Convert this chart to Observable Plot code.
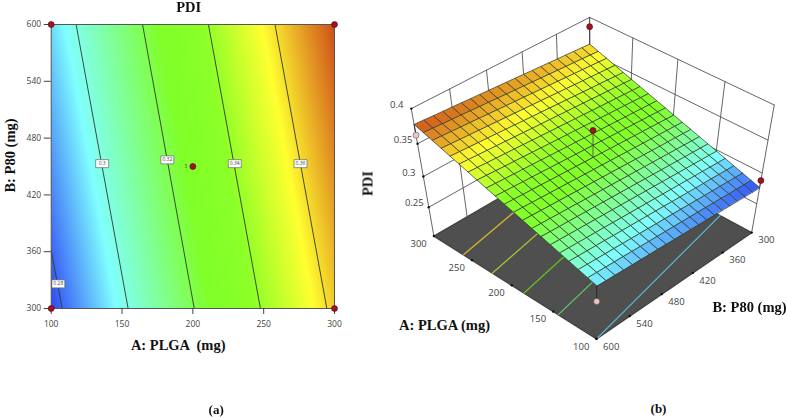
<!DOCTYPE html>
<html>
<head>
<meta charset="utf-8">
<script src="https://cdn.jsdelivr.net/npm/d3@7"></script>
<script src="https://cdn.jsdelivr.net/npm/@observablehq/plot@0.6"></script>
<style>
html,body{margin:0;padding:0;background:#fff;}
#wrap{display:flex;width:787px;height:417px;overflow:hidden;}
svg{display:block;filter:blur(0.35px);}
</style>
</head>
<body>
<div id="wrap"></div>
<script>
// ---- Data ----
const plgaLevels = [100,110,120,130,140,150,160,170,180,190,200,210,220,230,240,250,260,270,280,290,300];
const p80Levels = [300,315,330,345,360,375,390,405,420,435,450,465,480,495,510,525,540,555,570,585,600];
// one row per P80 level, one column per PLGA level
const pdiRows = [
[.2768,.2811,.2853,.2896,.2939,.2982,.3024,.3067,.3110,.3152,.3195,.3238,.3280,.3323,.3366,.3409,.3451,.3494,.3537,.3579,.3622],
[.2776,.2819,.2861,.2904,.2947,.2990,.3032,.3075,.3118,.3160,.3203,.3246,.3288,.3331,.3374,.3417,.3459,.3502,.3545,.3587,.3630],
[.2784,.2827,.2869,.2912,.2955,.2998,.3040,.3083,.3126,.3168,.3211,.3254,.3296,.3339,.3382,.3425,.3467,.3510,.3553,.3595,.3638],
[.2792,.2835,.2877,.2920,.2963,.3006,.3048,.3091,.3134,.3176,.3219,.3262,.3304,.3347,.3390,.3433,.3475,.3518,.3561,.3603,.3646],
[.2799,.2842,.2884,.2927,.2970,.3013,.3055,.3098,.3141,.3183,.3226,.3269,.3311,.3354,.3397,.3440,.3482,.3525,.3568,.3610,.3653],
[.2807,.2850,.2892,.2935,.2978,.3021,.3063,.3106,.3149,.3191,.3234,.3277,.3319,.3362,.3405,.3448,.3490,.3533,.3576,.3618,.3661],
[.2815,.2858,.2900,.2943,.2986,.3029,.3071,.3114,.3157,.3199,.3242,.3285,.3327,.3370,.3413,.3456,.3498,.3541,.3584,.3626,.3669],
[.2823,.2866,.2908,.2951,.2994,.3037,.3079,.3122,.3165,.3207,.3250,.3293,.3335,.3378,.3421,.3464,.3506,.3549,.3592,.3634,.3677],
[.2831,.2874,.2916,.2959,.3002,.3045,.3087,.3130,.3173,.3215,.3258,.3301,.3343,.3386,.3429,.3472,.3514,.3557,.3600,.3642,.3685],
[.2839,.2882,.2924,.2967,.3010,.3053,.3095,.3138,.3181,.3223,.3266,.3309,.3351,.3394,.3437,.3480,.3522,.3565,.3608,.3650,.3693],
[.2847,.2890,.2932,.2975,.3018,.3061,.3103,.3146,.3189,.3231,.3274,.3317,.3359,.3402,.3445,.3488,.3530,.3573,.3616,.3658,.3701],
[.2854,.2897,.2939,.2982,.3025,.3068,.3110,.3153,.3196,.3238,.3281,.3324,.3366,.3409,.3452,.3495,.3537,.3580,.3623,.3665,.3708],
[.2862,.2905,.2947,.2990,.3033,.3076,.3118,.3161,.3204,.3246,.3289,.3332,.3374,.3417,.3460,.3503,.3545,.3588,.3631,.3673,.3716],
[.2870,.2913,.2955,.2998,.3041,.3084,.3126,.3169,.3212,.3254,.3297,.3340,.3382,.3425,.3468,.3511,.3553,.3596,.3639,.3681,.3724],
[.2878,.2921,.2963,.3006,.3049,.3092,.3134,.3177,.3220,.3262,.3305,.3348,.3390,.3433,.3476,.3519,.3561,.3604,.3647,.3689,.3732],
[.2886,.2929,.2971,.3014,.3057,.3100,.3142,.3185,.3228,.3270,.3313,.3356,.3398,.3441,.3484,.3527,.3569,.3612,.3655,.3697,.3740],
[.2894,.2937,.2979,.3022,.3065,.3108,.3150,.3193,.3236,.3278,.3321,.3364,.3406,.3449,.3492,.3535,.3577,.3620,.3663,.3705,.3748],
[.2901,.2944,.2986,.3029,.3072,.3115,.3157,.3200,.3243,.3285,.3328,.3371,.3413,.3456,.3499,.3542,.3584,.3627,.3670,.3712,.3755],
[.2909,.2952,.2994,.3037,.3080,.3123,.3165,.3208,.3251,.3293,.3336,.3379,.3421,.3464,.3507,.3550,.3592,.3635,.3678,.3720,.3763],
[.2917,.2960,.3002,.3045,.3088,.3131,.3173,.3216,.3259,.3301,.3344,.3387,.3429,.3472,.3515,.3558,.3600,.3643,.3686,.3728,.3771],
[.2925,.2968,.3010,.3053,.3096,.3139,.3181,.3224,.3267,.3309,.3352,.3395,.3437,.3480,.3523,.3566,.3608,.3651,.3694,.3736,.3779]
];
const plgaTicks = [100,150,200,250,300];
const p80Ticks = [300,360,420,480,540,600];
const pdiTicks = [0.25,0.3,0.35,0.4];

// contours of panel (a): PLGA and P80 at both ends of each line
const contourLevels = ["0.28","0.3","0.32","0.34","0.36"];
const contourStartA = [107.8,154.3,201,247.7,294.6];
const contourStartB = [300,300,300,300,300];
const contourEndA = [100,117.6,164.5,211,258];
const contourEndB = [361,600,600,600,600];
const contourLabelA = [105,136,182,229.6,276];
const contourLabelB = [326,453,457,453,453];

// contours on the floor of panel (b): PLGA at P80=600 and at P80=300
const floorStartA = [261,224,185,144,100];
const floorEndA = [297.7,260.7,221.7,180.7,136.7];
const floorColors = ["#d8bb2e","#a5cc2c","#62c41f","#62cc6a","#58bcdc"];

// design points: PLGA, P80, measured PDI
const pointA = [300,200,100,300,100];
const pointB = [300,450,300,600,600];
const pointPDI = [0.387,0.3667,0.288,0.3625,0.2664];
const pointSurface = [0.3622,0.3273,0.2768,0.3779,0.2925];
const pointBelow = [false,false,false,true,true];

// colour ramp
const rampStops = [0.2768,0.2965,0.325,0.338,0.356,0.3779];
const rampColors = ["#2f48f5","#80ffff","#80ff28","#8cff28","#ffff30","#cf4d1a"];

// ---- shared options ----
const colorScale = {type:"linear", domain:rampStops, range:rampColors, interpolate:"rgb"};
const serif = {fontFamily:"Liberation Serif", fontWeight:"bold", fill:"#111", fontSize:14.5};
const sans = {fontFamily:"Open Sans", fill:"#444"};

// ---- panel (a) ----
const grid = pdiRows.flatMap((row,j)=>row.map((pdi,i)=>({A:plgaLevels[i],B:p80Levels[j],pdi})));
const contourLines = contourLevels.flatMap((level,i)=>[
  {level,A:contourStartA[i],B:contourStartB[i]},
  {level,A:contourEndA[i],B:contourEndB[i]}
]);
const contourLabels = contourLevels.map((level,i)=>({level,A:contourLabelA[i],B:contourLabelB[i]}));
const points = pointA.map((A,i)=>({A,B:pointB[i],pdi:pointPDI[i],surface:pointSurface[i],below:pointBelow[i]}));
const labelBox = {draw(ctx){ctx.moveTo(-6.5,-4);ctx.lineTo(6.5,-4);ctx.lineTo(6.5,4);ctx.lineTo(-6.5,4);ctx.closePath();}};

const left = Plot.plot({
  width:360, height:417,
  marginLeft:50.7, marginRight:26, marginTop:24, marginBottom:109,
  style:{background:"white", overflow:"visible"},
  x:{domain:[100,300], label:null},
  y:{domain:[300,600], label:null},
  color:colorScale,
  marks:[
    Plot.raster(grid,{x:"A",y:"B",fill:"pdi",interpolate:"barycentric"}),
    Plot.line(contourLines,{x:"A",y:"B",z:"level",stroke:"#2e3a2e",strokeWidth:0.9}),
    Plot.dot(contourLabels,{x:"A",y:"B",symbol:labelBox,r:4,fill:"white",stroke:"#666",strokeWidth:0.7}),
    Plot.text(contourLabels,{x:"A",y:"B",text:"level",fontSize:5,...sans}),
    Plot.frame({stroke:"#555",strokeWidth:1}),
    Plot.axisX({ticks:plgaTicks,tickSize:6,tickPadding:6,label:null,fontSize:8.5,fontFamily:"Open Sans",color:"#444"}),
    Plot.axisY({ticks:p80Ticks,tickSize:7,tickPadding:3,label:null,fontSize:8.5,fontFamily:"Open Sans",color:"#444"}),
    Plot.dot(points.filter(d=>d.A!==200),{x:"A",y:"B",r:3,fill:"#a01420",stroke:"#4a0a10",strokeWidth:0.6,clip:false}),
    Plot.dot([{A:200,B:450}],{x:"A",y:"B",r:3,fill:"#a01420",stroke:"#4a0a10",strokeWidth:0.6}),
    Plot.text([{A:200,B:450,t:"3"}],{x:"A",y:"B",text:"t",dx:-7,fontSize:4.5,...sans}),
    Plot.text(["PDI"],{frameAnchor:"top-left",dx:137.5,dy:-17,textAnchor:"middle",lineAnchor:"middle",...serif}),
    Plot.text(["B: P80 (mg)"],{frameAnchor:"top-left",rotate:-90,dx:-40.5,dy:131,textAnchor:"middle",lineAnchor:"middle",...serif}),
    Plot.text(["A: PLGA  (mg)"],{frameAnchor:"bottom-left",dx:127,dy:37,textAnchor:"middle",lineAnchor:"middle",...serif}),
    Plot.text(["(a)"],{frameAnchor:"bottom-left",dx:165,dy:101,textAnchor:"middle",lineAnchor:"middle",...serif,fontSize:13})
  ]
});

// ---- panel (b): a projective camera ----
const camera = {
  origin:[596,338.3],
  a:{vp:[-1425,-939],w:0.0875},
  b:{vp:[2475,-948],w:0.09},
  c:{vp:[592,1130],w:-0.1356}
};
function project(A,B,z){
  const a=(A-100)/200*camera.a.w, b=(600-B)/300*camera.b.w, c=(z-0.2)/0.2*camera.c.w;
  const den=1+a+b+c;
  return [0,1].map(k=>(camera.origin[k]+a*camera.a.vp[k]+b*camera.b.vp[k]+c*camera.c.vp[k])/den);
}
const px = d=>project(d.A,d.B,d.z)[0];
const py = d=>project(d.A,d.B,d.z)[1];
const Amin=plgaTicks[0], Amax=plgaTicks[4], Bmin=p80Ticks[0], Bmax=p80Ticks[5], Zfloor=0.2, Ztop=0.4;

const wallLines = [
  ...p80Ticks.slice(0,5).flatMap(B=>[{id:"vb"+B,A:Amax,B,z:Zfloor},{id:"vb"+B,A:Amax,B,z:Ztop}]),
  ...plgaTicks.flatMap(A=>[{id:"va"+A,A,B:Bmin,z:Zfloor},{id:"va"+A,A,B:Bmin,z:Ztop}]),
  {id:"vl",A:Amax,B:Bmax,z:Zfloor},{id:"vl",A:Amax,B:Bmax,z:Ztop},
  ...pdiTicks.flatMap(z=>[{id:"h"+z,A:Amax,B:Bmax,z},{id:"h"+z,A:Amax,B:Bmin,z},{id:"h"+z,A:Amin,B:Bmin,z}])
];
const floor = [{A:Amin,B:Bmax},{A:Amax,B:Bmax},{A:Amax,B:Bmin},{A:Amin,B:Bmin}].map(d=>({...d,z:Zfloor}));
const floorLines = floorStartA.flatMap((A,i)=>[
  {i,c:floorColors[i],A,B:Bmax,z:Zfloor},{i,c:floorColors[i],A:floorEndA[i],B:Bmin,z:Zfloor}
]);
const cells = [];
for(let j=0;j<p80Levels.length-1;j++) for(let i=0;i<plgaLevels.length-1;i++){
  const corners=[[i,j],[i+1,j],[i+1,j+1],[i,j+1]];
  const pdi=d3.mean(corners,([m,n])=>pdiRows[n][m]);
  for(const [m,n] of corners) cells.push({id:j*100+i,pdi,A:plgaLevels[m],B:p80Levels[n],z:pdiRows[n][m]});
}
const stems = points.flatMap((d,i)=>[{i,A:d.A,B:d.B,z:d.surface,below:d.below},{i,A:d.A,B:d.B,z:d.pdi,below:d.below}]);
const pointsUp = points.map(d=>({A:d.A,B:d.B,z:d.pdi,below:d.below}));
const ticksA = plgaTicks.map(A=>({A,B:Bmax,z:Zfloor,t:String(A)}));
const ticksB = p80Ticks.map(B=>({A:Amin,B,z:Zfloor,t:String(B)}));
const ticksZ = pdiTicks.map(z=>({A:Amax,B:Bmax,z,t:String(z)}));
const tickFont = {fontSize:9.5,...sans};

const right = Plot.plot({
  width:427, height:417, margin:0,
  style:{background:"white", overflow:"visible"},
  x:{domain:[360,787], range:[0,427], axis:null},
  y:{domain:[0,417], range:[0,417], axis:null},
  color:colorScale,
  marks:[
    Plot.line(wallLines,{x:px,y:py,z:"id",stroke:"#555",strokeWidth:0.9}),
    Plot.line(floor,{x:px,y:py,fill:"#4f4f4f",stroke:"#444",curve:"linear-closed"}),
    Plot.line(floorLines,{x:px,y:py,z:"i",stroke:"c",strokeWidth:1.2}),
    Plot.dot([...ticksA,...ticksB,...ticksZ],{x:px,y:py,r:1.2,fill:"#111"}),
    Plot.line(stems.filter(d=>d.below),{x:px,y:py,z:"i",stroke:"#222",strokeWidth:0.9}),
    Plot.line(cells,{x:px,y:py,z:"id",fill:"pdi",stroke:"#35402e",strokeWidth:0.75,curve:"linear-closed"}),
    Plot.dot(pointsUp.filter(d=>d.below),{x:px,y:py,r:3,fill:"#f2c4c4",stroke:"#555",strokeWidth:0.6}),
    Plot.line(stems.filter(d=>!d.below),{x:px,y:py,z:"i",stroke:"#444",strokeWidth:0.8}),
    Plot.dot(pointsUp.filter(d=>!d.below),{x:px,y:py,r:3,fill:"#a01420",stroke:"#4a0a10",strokeWidth:0.6}),
    Plot.text(ticksA,{x:px,y:py,text:"t",dx:-15.3,dy:7.7,...tickFont}),
    Plot.text(ticksB,{x:px,y:py,text:"t",dx:14.7,dy:7.7,...tickFont}),
    Plot.text(ticksZ,{x:px,y:py,text:"t",dx:-14.5,dy:-4,...tickFont}),
    Plot.text(["PDI"],{frameAnchor:"top-left",dx:7,dy:183,rotate:-90,textAnchor:"middle",lineAnchor:"middle",...serif}),
    Plot.text(["A: PLGA (mg)"],{frameAnchor:"top-left",dx:84,dy:325,textAnchor:"middle",lineAnchor:"middle",...serif}),
    Plot.text(["B: P80 (mg)"],{frameAnchor:"top-left",dx:389,dy:307,textAnchor:"middle",lineAnchor:"middle",...serif}),
    Plot.text(["(b)"],{frameAnchor:"top-left",dx:298,dy:408,textAnchor:"middle",lineAnchor:"middle",...serif,fontSize:13})
  ]
});
document.getElementById("wrap").append(left,right);
</script>
</body>
</html>
